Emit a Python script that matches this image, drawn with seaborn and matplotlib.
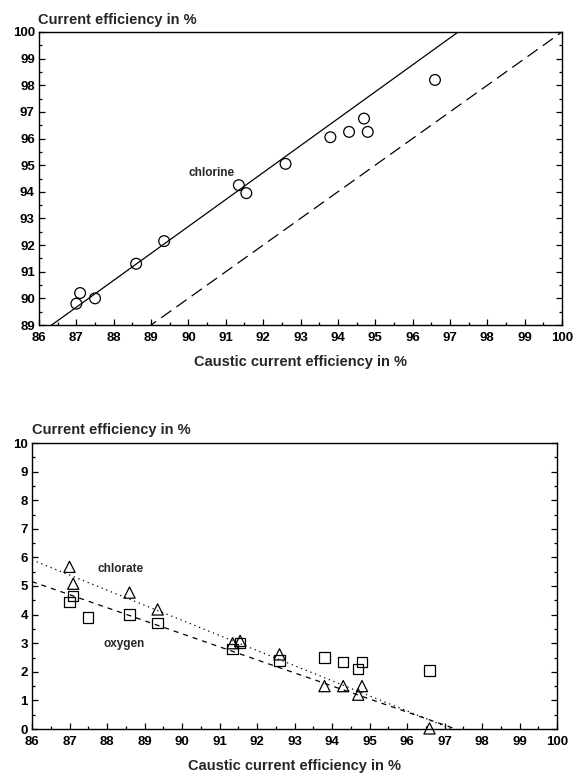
import numpy as np
import pandas as pd
import matplotlib
matplotlib.use('Agg')
import matplotlib.pyplot as plt
from matplotlib.ticker import MultipleLocator
import seaborn as sns

# caustic current efficiency (x) for the 13 runs
caustic = [87.0, 87.1, 87.5, 88.6, 89.35, 91.35, 91.55, 92.6, 93.8, 94.3, 94.7, 94.8, 96.6]
# chlorine current efficiency
chlorine = [89.8, 90.2, 90.0, 91.3, 92.15, 94.25, 93.95, 95.05, 96.05, 96.25, 96.75, 96.25, 98.2]
# oxygen current efficiency
oxygen = [4.45, 4.65, 3.9, 4.0, 3.7, 2.8, 3.0, 2.4, 2.5, 2.35, 2.1, 2.35, 2.05]
# chlorate current efficiency (no value for the 87.5 run)
caustic_chlorate = [87.0, 87.1, 88.6, 89.35, 91.35, 91.55, 92.6, 93.8, 94.3, 94.7, 94.8, 96.6]
chlorate = [5.67, 5.08, 4.77, 4.18, 3.0, 3.08, 2.61, 1.5, 1.5, 1.2, 1.5, 0.02]

# regression lines (slope, intercept)
chlorine_fit = (1.011, 1.71)
identity_fit = (1.0, 0.0)
chlorate_fit = (-0.528, 51.32)
oxygen_fit = (-0.456, 44.37)

W, H = 574, 774
sns.set_style('ticks')
plt.rcParams['font.family'] = ['Liberation Sans', 'DejaVu Sans']
fig = plt.figure(figsize=(W / 100, H / 100), dpi=100)

ax1 = fig.add_axes([39 / W, 1 - 325 / H, 523 / W, 293 / H])
ax2 = fig.add_axes([32 / W, 1 - 729 / H, 525 / W, 286 / H])

xs = np.linspace(86, 100, 200)


def fit_line(ax, fit, **kw):
    ys = fit[0] * xs + fit[1]
    sns.lineplot(x=xs, y=ys, ax=ax, color='black', lw=0.9, **kw)


def style_axes(ax, ylo, yhi):
    ax.set_xlim(86, 100)
    ax.set_ylim(ylo, yhi)
    ax.xaxis.set_major_locator(MultipleLocator(1))
    ax.xaxis.set_minor_locator(MultipleLocator(0.5))
    ax.yaxis.set_major_locator(MultipleLocator(1))
    ax.yaxis.set_minor_locator(MultipleLocator(0.5))
    ax.tick_params(which='both', direction='in', top=False, right=True,
                   labelsize=9.5, width=0.9, colors='black')
    ax.tick_params(which='major', length=4, pad=5)
    ax.tick_params(which='minor', length=2)
    ax.tick_params(axis='y', pad=3)
    for lab in ax.get_xticklabels() + ax.get_yticklabels():
        lab.set_fontweight('bold')
    for sp in ax.spines.values():
        sp.set_visible(True)
        sp.set_linewidth(1.0)
        sp.set_color('black')
    ax.set_xlabel('Caustic current efficiency in %', fontsize=10.5, labelpad=8,
                  fontweight='bold')
    ax.set_ylabel('')


# --- top panel: chlorine ---
fit_line(ax1, chlorine_fit)
fit_line(ax1, identity_fit, dashes=(10, 5))
sns.scatterplot(x=caustic, y=chlorine, ax=ax1, marker='o', s=60,
                facecolor='none', edgecolor='black', linewidth=0.9, zorder=3)
ax1.text(90.63, 94.69, 'chlorine', fontsize=8.5, fontweight='bold', ha='center', va='center')
style_axes(ax1, 89, 100)

# --- bottom panel: chlorate and oxygen ---
fit_line(ax2, chlorate_fit, dashes=(1, 3))
fit_line(ax2, oxygen_fit, dashes=(4, 4))
sns.scatterplot(x=caustic_chlorate, y=chlorate, ax=ax2, marker='^', s=65,
                facecolor='none', edgecolor='black', linewidth=0.9, zorder=3, clip_on=False)
sns.scatterplot(x=caustic, y=oxygen, ax=ax2, marker='s', s=55,
                facecolor='none', edgecolor='black', linewidth=0.9, zorder=3)
ax2.text(88.35, 5.61, 'chlorate', fontsize=8.5, fontweight='bold', ha='center', va='center')
ax2.text(88.45, 2.96, 'oxygen', fontsize=8.5, fontweight='bold', ha='center', va='center')
style_axes(ax2, 0, 10)

fig.text(38 / W, 1 - 20 / H, 'Current efficiency in %', fontsize=10.5, fontweight='bold',
         ha='left', va='center')
fig.text(32 / W, 1 - 430 / H, 'Current efficiency in %', fontsize=10.5, fontweight='bold',
         ha='left', va='center')

fig.savefig('out.png', dpi=100)
